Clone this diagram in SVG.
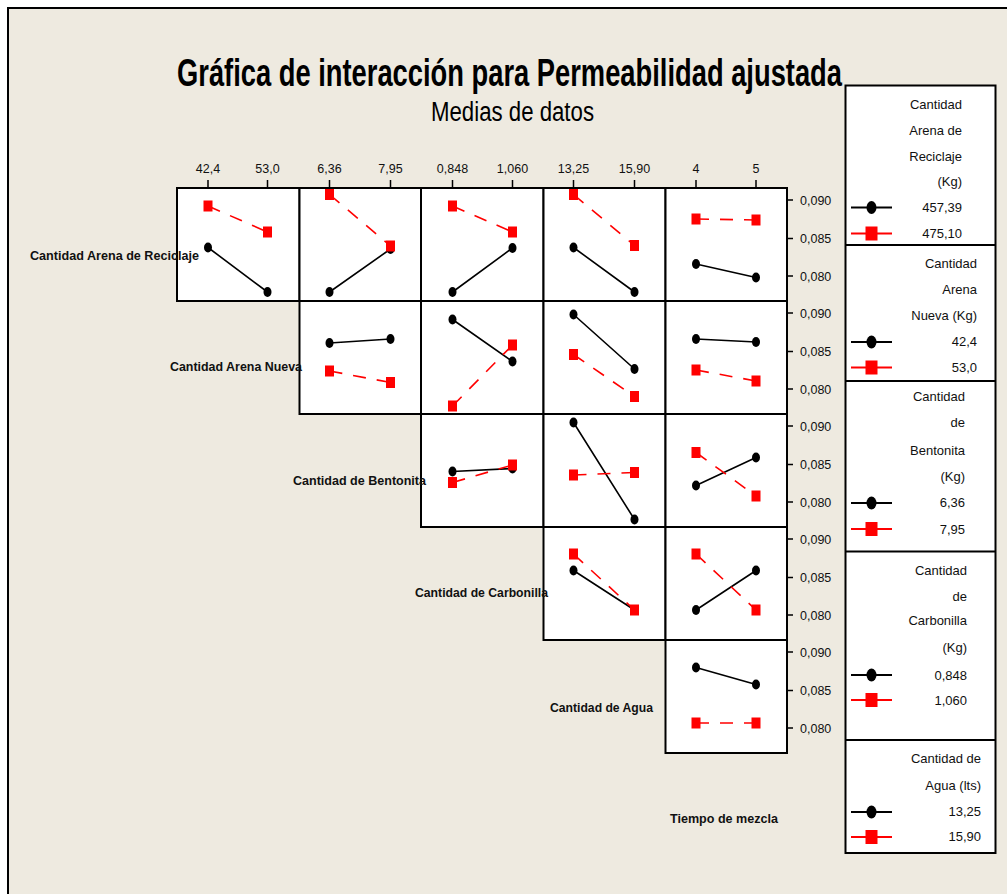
<svg xmlns="http://www.w3.org/2000/svg" xmlns:xlink="http://www.w3.org/1999/xlink" width="1007" height="894" viewBox="0 0 1007 894">
<style>
.bg{fill:#EEEAE0}
.frame{stroke:#000;stroke-width:2;fill:none}
.panel{fill:#fff;stroke:#000;stroke-width:2}
.bl{stroke:#000;stroke-width:1.6;fill:none}
.rd{stroke:#f00;stroke-width:1.6;fill:none;stroke-dasharray:13 11}
.dot{fill:#000}
.sq{fill:#f00}
.tick{stroke:#000;stroke-width:1.5}
.title{font-family:"Liberation Sans",Arial,sans-serif;font-weight:bold;font-size:38px;fill:#000}
.sub{font-family:"Liberation Sans",Arial,sans-serif;font-size:27px;fill:#000}
.ax{font-family:"Liberation Sans",Arial,sans-serif;font-size:12.5px;fill:#111}
.axm{font-family:"Liberation Sans",Arial,sans-serif;font-size:12.5px;fill:#111;text-anchor:middle}
.lab{font-family:"Liberation Sans",Arial,sans-serif;font-size:12.5px;font-weight:bold;fill:#111}
.lg{font-family:"Liberation Sans",Arial,sans-serif;font-size:13px;fill:#111;text-anchor:end}
.lgbox{fill:#fff;stroke:#000;stroke-width:2}
.lgb{stroke:#000;stroke-width:2}
.lgr{stroke:#f00;stroke-width:2}
</style>
<defs>
<ellipse id="c" cx="0" cy="0" rx="4" ry="5"/>
<rect id="s" x="-4.5" y="-5.5" width="9" height="11"/>
<ellipse id="lc" cx="0" cy="0" rx="5" ry="6.5"/>
<rect id="ls" x="-6" y="-7" width="12" height="14"/>
</defs>
<rect x="0" y="0" width="1007" height="894" fill="#fff"/>
<rect class="bg" x="8" y="8" width="999" height="886"/>
<path class="frame" d="M8,894 V8 H1007"/>

<g id="top-axis">
<path class="tick" d="M208,180V188M267.5,180V188M329.5,180V188M390.5,180V188M452.5,180V188M512.5,180V188M573.5,180V188M634.5,180V188M696,180V188M756,180V188"/>
<text class="axm" x="208" y="173">42,4</text>
<text class="axm" x="267.5" y="173">53,0</text>
<text class="axm" x="329.5" y="173">6,36</text>
<text class="axm" x="390.5" y="173">7,95</text>
<text class="axm" x="452.5" y="173">0,848</text>
<text class="axm" x="512.5" y="173">1,060</text>
<text class="axm" x="573.5" y="173">13,25</text>
<text class="axm" x="634.5" y="173">15,90</text>
<text class="axm" x="696" y="173">4</text>
<text class="axm" x="756" y="173">5</text>
</g>

<g id="right-axis">
<path class="tick" d="M787,200H793M787,238.5H793M787,276H793M787,313H793M787,351.5H793M787,389H793M787,426H793M787,464.5H793M787,502H793M787,539H793M787,577.5H793M787,615H793M787,652H793M787,690.5H793M787,728H793"/>
<text class="ax" x="800" y="204.5">0,090</text>
<text class="ax" x="800" y="243">0,085</text>
<text class="ax" x="800" y="280.5">0,080</text>
<text class="ax" x="800" y="317.5">0,090</text>
<text class="ax" x="800" y="356">0,085</text>
<text class="ax" x="800" y="393.5">0,080</text>
<text class="ax" x="800" y="430.5">0,090</text>
<text class="ax" x="800" y="469">0,085</text>
<text class="ax" x="800" y="506.5">0,080</text>
<text class="ax" x="800" y="543.5">0,090</text>
<text class="ax" x="800" y="582">0,085</text>
<text class="ax" x="800" y="619.5">0,080</text>
<text class="ax" x="800" y="656.5">0,090</text>
<text class="ax" x="800" y="695">0,085</text>
<text class="ax" x="800" y="732.5">0,080</text>
</g>

<g id="row0">
<rect class="panel" x="177" y="188" width="122.5" height="113"/>
<rect class="panel" x="299.5" y="188" width="121.5" height="113"/>
<rect class="panel" x="421" y="188" width="122.5" height="113"/>
<rect class="panel" x="543.5" y="188" width="122" height="113"/>
<rect class="panel" x="665.5" y="188" width="121.5" height="113"/>
<path class="bl" d="M208,247.5L267.5,292M329.5,292L390.5,249M452.5,292L512.5,248M573.5,247.5L634.5,292M696,264L756,277.5"/>
<path class="rd" d="M208,206L267.5,232M329.5,194.5L390.5,246M452.5,206L512.5,232M573.5,194.5L634.5,245.5M696,219L756,220"/>
<g class="dot"><use xlink:href="#c" x="208" y="247.5"/><use xlink:href="#c" x="267.5" y="292"/><use xlink:href="#c" x="329.5" y="292"/><use xlink:href="#c" x="390.5" y="249"/><use xlink:href="#c" x="452.5" y="292"/><use xlink:href="#c" x="512.5" y="248"/><use xlink:href="#c" x="573.5" y="247.5"/><use xlink:href="#c" x="634.5" y="292"/><use xlink:href="#c" x="696" y="264"/><use xlink:href="#c" x="756" y="277.5"/></g>
<g class="sq"><use xlink:href="#s" x="208" y="206"/><use xlink:href="#s" x="267.5" y="232"/><use xlink:href="#s" x="329.5" y="194.5"/><use xlink:href="#s" x="390.5" y="246"/><use xlink:href="#s" x="452.5" y="206"/><use xlink:href="#s" x="512.5" y="232"/><use xlink:href="#s" x="573.5" y="194.5"/><use xlink:href="#s" x="634.5" y="245.5"/><use xlink:href="#s" x="696" y="219"/><use xlink:href="#s" x="756" y="220"/></g>
</g>

<g id="row1">
<rect class="panel" x="299.5" y="301" width="121.5" height="113"/>
<rect class="panel" x="421" y="301" width="122.5" height="113"/>
<rect class="panel" x="543.5" y="301" width="122" height="113"/>
<rect class="panel" x="665.5" y="301" width="121.5" height="113"/>
<path class="bl" d="M329.5,343L390.5,339M452.5,319.5L512.5,361.5M573.5,314.5L634.5,369M696,339L756,342"/>
<path class="rd" d="M329.5,371L390.5,382.5M452.5,406L512.5,345M573.5,354.5L634.5,396.5M696,370L756,381"/>
<g class="dot"><use xlink:href="#c" x="329.5" y="343"/><use xlink:href="#c" x="390.5" y="339"/><use xlink:href="#c" x="452.5" y="319.5"/><use xlink:href="#c" x="512.5" y="361.5"/><use xlink:href="#c" x="573.5" y="314.5"/><use xlink:href="#c" x="634.5" y="369"/><use xlink:href="#c" x="696" y="339"/><use xlink:href="#c" x="756" y="342"/></g>
<g class="sq"><use xlink:href="#s" x="329.5" y="371"/><use xlink:href="#s" x="390.5" y="382.5"/><use xlink:href="#s" x="452.5" y="406"/><use xlink:href="#s" x="512.5" y="345"/><use xlink:href="#s" x="573.5" y="354.5"/><use xlink:href="#s" x="634.5" y="396.5"/><use xlink:href="#s" x="696" y="370"/><use xlink:href="#s" x="756" y="381"/></g>
</g>

<g id="row2">
<rect class="panel" x="421" y="414" width="122.5" height="113"/>
<rect class="panel" x="543.5" y="414" width="122" height="113"/>
<rect class="panel" x="665.5" y="414" width="121.5" height="113"/>
<path class="bl" d="M452.5,471.5L512.5,468.5M573.5,422.5L634.5,519.5M696,485.5L756,457.5"/>
<path class="rd" d="M452.5,482.5L512.5,465M573.5,475L634.5,472.5M696,452.5L756,496"/>
<g class="dot"><use xlink:href="#c" x="452.5" y="471.5"/><use xlink:href="#c" x="512.5" y="468.5"/><use xlink:href="#c" x="573.5" y="422.5"/><use xlink:href="#c" x="634.5" y="519.5"/><use xlink:href="#c" x="696" y="485.5"/><use xlink:href="#c" x="756" y="457.5"/></g>
<g class="sq"><use xlink:href="#s" x="452.5" y="482.5"/><use xlink:href="#s" x="512.5" y="465"/><use xlink:href="#s" x="573.5" y="475"/><use xlink:href="#s" x="634.5" y="472.5"/><use xlink:href="#s" x="696" y="452.5"/><use xlink:href="#s" x="756" y="496"/></g>
</g>

<g id="row3">
<rect class="panel" x="543.5" y="527" width="122" height="113"/>
<rect class="panel" x="665.5" y="527" width="121.5" height="113"/>
<path class="bl" d="M573.5,570.5L634.5,610M696,610L756,570.5"/>
<path class="rd" d="M573.5,554L634.5,610M696,554L756,610"/>
<g class="dot"><use xlink:href="#c" x="573.5" y="570.5"/><use xlink:href="#c" x="634.5" y="610"/><use xlink:href="#c" x="696" y="610"/><use xlink:href="#c" x="756" y="570.5"/></g>
<g class="sq"><use xlink:href="#s" x="573.5" y="554"/><use xlink:href="#s" x="634.5" y="610"/><use xlink:href="#s" x="696" y="554"/><use xlink:href="#s" x="756" y="610"/></g>
</g>

<g id="row4">
<rect class="panel" x="665.5" y="640" width="121.5" height="113"/>
<path class="bl" d="M696,667.5L756,684.5"/>
<path class="rd" d="M696,723L756,723"/>
<g class="dot"><use xlink:href="#c" x="696" y="667.5"/><use xlink:href="#c" x="756" y="684.5"/></g>
<g class="sq"><use xlink:href="#s" x="696" y="723"/><use xlink:href="#s" x="756" y="723"/></g>
</g>

<g id="row-labels">
<text class="lab" x="30" y="260" textLength="169" lengthAdjust="spacingAndGlyphs">Cantidad Arena de Reciclaje</text>
<text class="lab" x="170" y="371" textLength="132" lengthAdjust="spacingAndGlyphs">Cantidad Arena Nueva</text>
<text class="lab" x="293" y="485" textLength="133" lengthAdjust="spacingAndGlyphs">Cantidad de Bentonita</text>
<text class="lab" x="415" y="597" textLength="133" lengthAdjust="spacingAndGlyphs">Cantidad de Carbonilla</text>
<text class="lab" x="550" y="712" textLength="103" lengthAdjust="spacingAndGlyphs">Cantidad de Agua</text>
<text class="lab" x="670" y="823" textLength="108" lengthAdjust="spacingAndGlyphs">Tiempo de mezcla</text>
</g>

<g id="legend">
<rect class="lgbox" x="845.5" y="85.5" width="150" height="767.5"/>
<path class="lgb" d="M845.5,245H995.5M845.5,381H995.5M845.5,551.5H995.5M845.5,740H995.5"/>
<path class="lgb" d="M851,207.5H892M851,342H892M851,503H892M851,675H892M851,812H892"/>
<path class="lgr" d="M851,233.5H892M851,367.5H892M851,529H892M851,700H892M851,837H892"/>
<g class="dot"><use xlink:href="#lc" x="871.5" y="207.5"/><use xlink:href="#lc" x="871.5" y="342"/><use xlink:href="#lc" x="871.5" y="503"/><use xlink:href="#lc" x="871.5" y="675"/><use xlink:href="#lc" x="871.5" y="812"/></g>
<g class="sq"><use xlink:href="#ls" x="871.5" y="233.5"/><use xlink:href="#ls" x="871.5" y="367.5"/><use xlink:href="#ls" x="871.5" y="529"/><use xlink:href="#ls" x="871.5" y="700"/><use xlink:href="#ls" x="871.5" y="837"/></g>
<text class="lg" x="962" y="108.5">Cantidad</text>
<text class="lg" x="962" y="135">Arena de</text>
<text class="lg" x="962" y="160.5">Reciclaje</text>
<text class="lg" x="962" y="186">(Kg)</text>
<text class="lg" x="962" y="212">457,39</text>
<text class="lg" x="962" y="238">475,10</text>
<text class="lg" x="977" y="268">Cantidad</text>
<text class="lg" x="977" y="294">Arena</text>
<text class="lg" x="977" y="320">Nueva (Kg)</text>
<text class="lg" x="977" y="346">42,4</text>
<text class="lg" x="977" y="372">53,0</text>
<text class="lg" x="965" y="400.5">Cantidad</text>
<text class="lg" x="965" y="427">de</text>
<text class="lg" x="965" y="454.5">Bentonita</text>
<text class="lg" x="965" y="480.5">(Kg)</text>
<text class="lg" x="965" y="507">6,36</text>
<text class="lg" x="965" y="533.5">7,95</text>
<text class="lg" x="967" y="574.5">Cantidad</text>
<text class="lg" x="967" y="601">de</text>
<text class="lg" x="967" y="625">Carbonilla</text>
<text class="lg" x="967" y="652">(Kg)</text>
<text class="lg" x="967" y="679.5">0,848</text>
<text class="lg" x="967" y="704.5">1,060</text>
<text class="lg" x="981" y="763">Cantidad de</text>
<text class="lg" x="981" y="789.5">Agua (lts)</text>
<text class="lg" x="981" y="816">13,25</text>
<text class="lg" x="981" y="841">15,90</text>
</g>

<g id="title">
<text class="title" x="177" y="86" textLength="665" lengthAdjust="spacingAndGlyphs">Gráfica de interacción para Permeabilidad ajustada</text>
<text class="sub" x="431" y="121" textLength="163" lengthAdjust="spacingAndGlyphs">Medias de datos</text>
</g>
</svg>
